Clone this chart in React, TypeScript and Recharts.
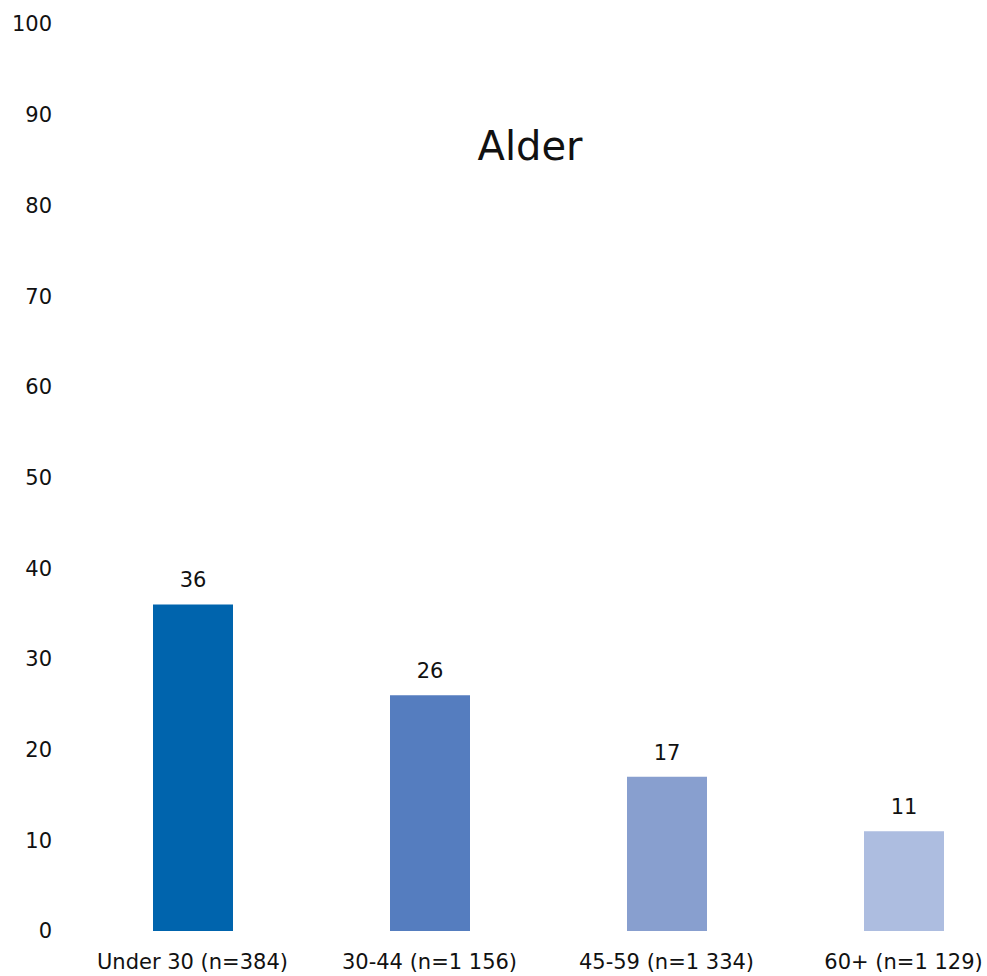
import { BarChart, Bar, XAxis, YAxis, Cell, LabelList } from 'recharts';

const ageGroups = ['Under 30 (n=384)', '30-44 (n=1 156)', '45-59 (n=1 334)', '60+ (n=1 129)'];
const shares = [36, 26, 17, 11];
const barColors = ['#0064AD', '#557DBF', '#889FCF', '#ADBDE0'];
const yTicks = [0, 10, 20, 30, 40, 50, 60, 70, 80, 90, 100];

const data = ageGroups.map((group, i) => ({ group, value: shares[i] }));

const font = '"DejaVu Sans", sans-serif';

export default function App() {
  return (
    <div
      style={{
        position: 'absolute', left: 0, top: 0, width: 987, height: 976,
        overflow: 'hidden', background: '#fff', fontFamily: font,
      }}
    >
      <div
        style={{
          position: 'absolute', left: 430, width: 200, top: 122,
          textAlign: 'center', fontSize: 40, color: '#111', lineHeight: '48px',
        }}
      >
        Alder
      </div>
      <BarChart
        data={data}
        width={1022}
        height={976}
        margin={{ top: 24, right: 0, bottom: 0, left: 0 }}
      >
        <XAxis
          dataKey="group"
          axisLine={false}
          tickLine={false}
          tickSize={0}
          tickMargin={23}
          height={45}
          interval={0}
          tick={{ fill: '#111', fontSize: 21, fontFamily: font }}
        />
        <YAxis
          domain={[0, 100]}
          ticks={yTicks}
          axisLine={false}
          tickLine={false}
          tickSize={0}
          tickMargin={22}
          width={74}
          tick={{ fill: '#111', fontSize: 21, fontFamily: font }}
        />
        <Bar dataKey="value" barSize={80} isAnimationActive={false}>
          {data.map((d, i) => (
            <Cell key={d.group} fill={barColors[i]} />
          ))}
          <LabelList
            dataKey="value"
            position="top"
            offset={17}
            style={{ fill: '#111', fontSize: 21, fontFamily: font }}
          />
        </Bar>
      </BarChart>
    </div>
  );
}
